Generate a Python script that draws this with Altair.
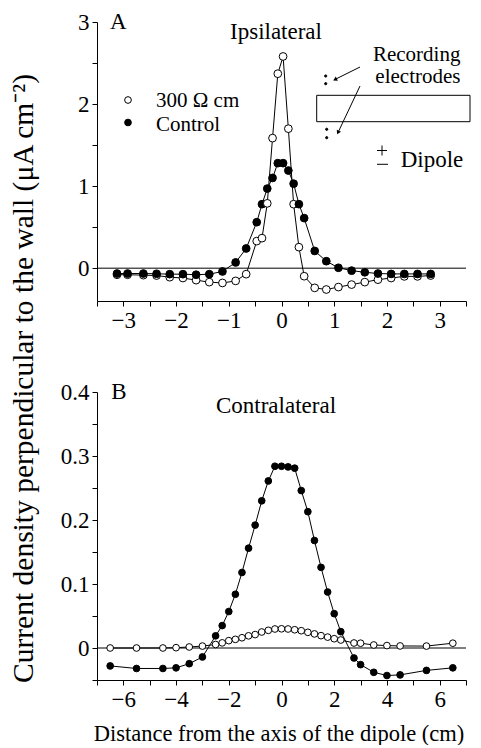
import altair as alt
import pandas as pd

# ---------------- data ----------------
# Panel A (ipsilateral)
a_x = [-3.12, -2.92, -2.62, -2.37, -2.12, -1.87, -1.62, -1.37, -1.12, -0.87,
       -0.67, -0.47, -0.37, -0.27, -0.17, -0.07, 0.03, 0.13, 0.23, 0.33,
       0.43, 0.63, 0.85, 1.08, 1.33, 1.58, 1.83, 2.08, 2.33, 2.58, 2.83]
a_control = [-0.065, -0.065, -0.065, -0.068, -0.073, -0.073, -0.08, -0.073, -0.04, 0.07,
             0.24, 0.56, 0.78, 0.97, 1.10, 1.28, 1.28, 1.19, 1.03, 0.78,
             0.61, 0.21, 0.085, 0.005, -0.03, -0.05, -0.065, -0.07, -0.07, -0.07, -0.07]
a_resist = [-0.08, -0.08, -0.085, -0.09, -0.11, -0.12, -0.146, -0.17, -0.18, -0.155,
            -0.073, 0.33, 0.366, 0.79, 1.585, 2.37, 2.58, 1.70, 0.78, 0.256,
            -0.098, -0.24, -0.26, -0.23, -0.20, -0.17, -0.14, -0.12, -0.10, -0.10, -0.09]

# Panel B (contralateral)
b_x = [-6.5, -5.5, -4.5, -4, -3.5, -3, -2.5, -2.25, -2, -1.75, -1.5, -1.25, -1, -0.75,
       -0.5, -0.25, 0, 0.25, 0.5, 0.75, 1, 1.25, 1.5, 1.75, 2, 2.25,
       2.75, 3, 3.5, 4, 4.5, 5.5, 6.5]
b_control = [-0.028, -0.032, -0.032, -0.031, -0.0245, -0.014, 0.019, 0.035, 0.057, 0.084,
             0.118, 0.156, 0.192, 0.23, 0.261, 0.284, 0.284, 0.283, 0.281, 0.246,
             0.213, 0.168, 0.126, 0.0875, 0.0536, 0.0255, -0.0156, -0.026, -0.038,
             -0.043, -0.042, -0.035, -0.031]
b_resist = [0.0, 0.0, 0.0, 0.0005, 0.0016, 0.003, 0.0055, 0.008, 0.0115, 0.0135,
            0.016, 0.019, 0.021, 0.025, 0.0276, 0.0297, 0.030, 0.0297, 0.0285, 0.027,
            0.0245, 0.022, 0.0193, 0.017, 0.0145, 0.0125, 0.0078, 0.0075, 0.0047,
            0.0038, 0.0032, 0.003, 0.0075]

series_names = ["300 \u03a9 cm", "Control"]

a_xticks = [-3.5, -3, -2.5, -2, -1.5, -1, -0.5, 0, 0.5, 1, 1.5, 2, 2.5, 3, 3.5]
a_yticks = [0, 0.5, 1, 1.5, 2, 2.5, 3]
b_xticks = [-7, -6, -5, -4, -3, -2, -1, 0, 1, 2, 3, 4, 5, 6, 7]
b_yticks = [-0.05, 0, 0.05, 0.1, 0.15, 0.2, 0.25, 0.3, 0.35, 0.4]

FONT = "Liberation Serif"
FS = 23


def long_df(xs, ctrl, res):
    rows = []
    for xi, c, r in zip(xs, ctrl, res):
        rows.append({"x": xi, "y": r, "s": series_names[0]})
        rows.append({"x": xi, "y": c, "s": series_names[1]})
    return pd.DataFrame(rows)


one = pd.DataFrame({"k": [0]})


def label(text, x, y, size=FS, align="left", baseline="alphabetic", angle=0):
    return alt.Chart(one).mark_text(
        text=text, font=FONT, fontSize=size, align=align, baseline=baseline,
        angle=angle, color="black", fill="black"
    ).encode(x=alt.value(x), y=alt.value(y))


def seg(x1, y1, x2, y2):
    return alt.Chart(one).mark_rule(color="black", strokeWidth=1).encode(
        x=alt.value(x1), y=alt.value(y1), x2=alt.value(x2), y2=alt.value(y2))


def head(x, y, ang):
    return alt.Chart(one).mark_point(
        shape="triangle-up", filled=True, size=22, angle=ang, color="black", opacity=1
    ).encode(x=alt.value(x), y=alt.value(y))


def dot(x, y, filled, size):
    return alt.Chart(one).mark_point(
        shape="circle", filled=True, size=size, opacity=1,
        fill="black" if filled else "white", stroke="black", strokeWidth=1
    ).encode(x=alt.value(x), y=alt.value(y))


def panel(df, xdom, ydom, xvals, yvals, xexpr, yexpr, size):
    x = alt.X("x:Q", scale=alt.Scale(domain=xdom, nice=False, zero=False),
              axis=alt.Axis(values=xvals, labelExpr=xexpr, title=None))
    y = alt.Y("y:Q", scale=alt.Scale(domain=ydom, nice=False, zero=False),
              axis=alt.Axis(values=yvals, labelExpr=yexpr, title=None))
    base = alt.Chart(df)
    zero = alt.Chart(pd.DataFrame({"y": [0.0]})).mark_rule(
        color="black", strokeWidth=1).encode(y=y)
    lines = base.mark_line(color="black", strokeWidth=1).encode(
        x=x, y=y, detail="s:N", order="x:Q")
    pts = base.mark_point(shape="circle", filled=True, size=size, opacity=1,
                          stroke="black", strokeWidth=1).encode(
        x=x, y=y,
        fill=alt.Fill("s:N", scale=alt.Scale(domain=series_names, range=["white", "black"]),
                      legend=None))
    return [zero, lines, pts]


dfa = long_df(a_x, a_control, a_resist)
dfb = long_df(b_x, b_control, b_resist)

WA, HA = 369, 279
WB, HB = 369, 288

a_layers = panel(dfa, [-3.5, 3.5], [-0.4, 3], a_xticks, a_yticks,
                 "round(datum.value * 10) % 10 == 0 ? format(datum.value, 'd') : ''",
                 "round(datum.value * 10) % 10 == 0 ? format(datum.value, 'd') : ''",
                 60)
a_layers += [
    label("A", 13, 7.3),
    label("Ipsilateral", 179, 17.3, align="center"),
    dot(31, 78, False, 45), label(series_names[0], 59, 85, size=21),
    dot(31, 100.5, True, 45), label(series_names[1], 59, 108.5, size=21),
    label("Recording", 319.7, 39, size=21, align="center"),
    label("electrodes", 320.9, 60.7, size=21, align="center"),
    alt.Chart(one).mark_rect(fill="white", stroke="black", strokeWidth=1).encode(
        x=alt.value(219.7), x2=alt.value(373), y=alt.value(73.3), y2=alt.value(99.7)),
    dot(228.7, 54, True, 5), dot(228.7, 61.7, True, 5),
    dot(229.7, 107.3, True, 5), dot(229.7, 115.7, True, 5),
    seg(263, 45, 238.5, 57.2), head(238, 57.5, 243.5),
    seg(263, 64, 241.5, 109.5), head(241, 110.5, 205.2),
    seg(280, 128.5, 290, 128.5), seg(285, 123.5, 285, 133.5),
    seg(280, 142.3, 291, 142.3),
    label("Dipole", 303.7, 144.7),
    label("Current density perpendicular to the wall (\u03bcA cm\u207b\u00b2)", -73, 356.5,
          size=29.5, align="center", baseline="middle", angle=270),
]
chart_a = alt.layer(*a_layers).properties(width=WA, height=HA)

b_layers = panel(dfb, [-7, 7], [-0.05, 0.4], b_xticks, b_yticks,
                 "round(datum.value) % 2 == 0 ? format(datum.value, 'd') : ''",
                 "indexof([0, 10, 20, 30, 40], round(datum.value * 100)) >= 0 ? format(datum.value, '.1~f') : ''",
                 45)
b_layers += [
    label("B", 14.3, 7.3),
    label("Contralateral", 179, 21, align="center"),
    label("Distance from the axis of the dipole (cm)", 182, 348.5, size=22.5, align="center"),
]
chart_b = alt.layer(*b_layers).properties(width=WB, height=HB)

chart = alt.vconcat(chart_a, chart_b, spacing=91, bounds="flush").properties(
    padding={"left": 0, "top": 3, "right": 0, "bottom": 0}
).configure_view(stroke=None).configure_axis(
    grid=False, domainColor="black", domainWidth=1, tickColor="black", tickWidth=1,
    tickSize=5, labelFont=FONT, labelFontSize=FS, labelColor="black", labelPadding=3,
    labelFlush=False, labelOverlap=False
)

chart.save("out.html", embed_options={"renderer": "svg", "actions": False})
